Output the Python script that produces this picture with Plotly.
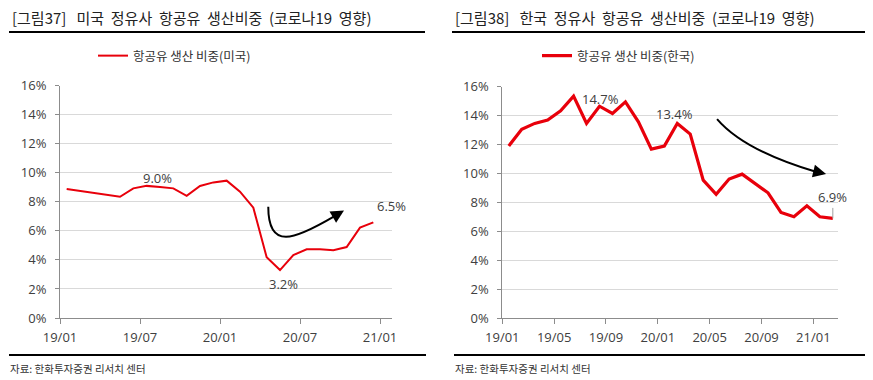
import plotly.graph_objects as go

# ---------------- data ----------------
us_months = ["19/01", "19/02", "19/03", "19/04", "19/05", "19/06", "19/07", "19/08", "19/09", "19/10",
             "19/11", "19/12", "20/01", "20/02", "20/03", "20/04", "20/05", "20/06", "20/07", "20/08",
             "20/09", "20/10", "20/11", "20/12"]
us_share = [8.88, None, None, None, 8.35, 8.93, 9.1, 9.02, 8.93, 8.42,
            9.09, 9.34, 9.46, 8.7, 7.6, 4.18, 3.3, 4.34, 4.73, 4.73,
            4.66, 4.89, 6.22, 6.59]

kr_months = ["19/01", "19/02", "19/03", "19/04", "19/05", "19/06", "19/07", "19/08", "19/09", "19/10",
             "19/11", "19/12", "20/01", "20/02", "20/03", "20/04", "20/05", "20/06", "20/07", "20/08",
             "20/09", "20/10", "20/11", "20/12", "21/01", "21/02"]
kr_share = [11.9, 13.05, 13.46, 13.69, 14.33, 15.35, 13.46, 14.65, 14.15, 14.95,
            13.57, 11.68, 11.89, 13.46, 12.72, 9.54, 8.55, 9.61, 9.95, 9.31,
            8.66, 7.3, 7.0, 7.76, 7.0, 6.89]

us_name = "항공유 생산 비중(미국)"
kr_name = "항공유 생산 비중(한국)"
title_us = "[그림37]\u00a0\u00a0 미국\u00a0 정유사\u00a0 항공유\u00a0 생산비중\u00a0 (코로나19\u00a0 영향)"
title_kr = "[그림38]\u00a0\u00a0 한국\u00a0 정유사\u00a0 항공유\u00a0 생산비중\u00a0 (코로나19\u00a0 영향)"
source = "자료: 한화투자증권 리서치 센터"

# ---------------- layout geometry (px) ----------------
W, H = 873, 380
OFF = 8  # page body margin in the browser
RED = "#e8000b"
KFONT = "Noto Sans CJK KR"
NFONT = "Open Sans"
TXT = "#404040"

def px_x(p):
    return (p - OFF) / W

def px_y(p):
    return 1 - (p - OFF) / H

us_x = [i + 0.5 for i in range(len(us_months))]
kr_x = [i + 0.5 for i in range(len(kr_months))]

fig = go.Figure()
fig.add_trace(go.Scatter(x=us_x, y=us_share, mode="lines", name=us_name,
                         line=dict(color=RED, width=2), connectgaps=True,
                         xaxis="x", yaxis="y", legend="legend"))
fig.add_trace(go.Scatter(x=kr_x, y=kr_share, mode="lines", name=kr_name,
                         line=dict(color=RED, width=3.2),
                         xaxis="x2", yaxis="y2", legend="legend2"))

# decorative rules (title underline, footer line) on a full-page overlay axis in page pixels
rules = [((9, 425), 32), ((452, 868), 32), ((9, 426), 355), ((454, 870), 355)]
for (x0, x1), y in rules:
    fig.add_trace(go.Scatter(x=[x0, x1], y=[y, y], mode="lines", showlegend=False,
                             hoverinfo="skip", line=dict(color="black", width=2),
                             xaxis="x3", yaxis="y3"))

us_ticks = [i for i in range(0, len(us_months) + 1, 6)]
us_ticktext = [us_months[i] if i < len(us_months) else "21/01" for i in us_ticks]
kr_ticks = [i for i in range(0, len(kr_months), 4)]
kr_ticktext = [kr_months[i] for i in kr_ticks]

xcommon = dict(showgrid=False, showline=True, linecolor="#8c8c8c", linewidth=1,
               ticks="outside", ticklen=5, tickcolor="#8c8c8c", zeroline=False,
               tickfont=dict(family=NFONT, size=13, color=TXT), ticklabelstandoff=2,
               automargin=False)
ycommon = dict(range=[0, 16], dtick=2, ticksuffix="%", showgrid=True, gridcolor="#d9d9d9",
               gridwidth=1, showline=True, linecolor="#8c8c8c", linewidth=1,
               ticks="outside", ticklen=4, tickcolor="#8c8c8c", zeroline=False,
               tickfont=dict(family=NFONT, size=13, color=TXT), ticklabelstandoff=6,
               automargin=False)

fig.update_layout(
    width=W, height=H, margin=dict(l=0, r=0, t=0, b=0, pad=0, autoexpand=False),
    autosize=False,
    paper_bgcolor="white", plot_bgcolor="rgba(0,0,0,0)",
    xaxis=dict(domain=[px_x(60), px_x(392)], range=[0, 24.9], tickvals=us_ticks,
               ticktext=us_ticktext, anchor="y", **xcommon),
    yaxis=dict(domain=[px_y(318), px_y(85.7)], anchor="x", **ycommon),
    xaxis2=dict(domain=[px_x(502.3), px_x(838)], range=[0, 25.9], tickvals=kr_ticks,
                ticktext=kr_ticktext, anchor="y2", **xcommon),
    yaxis2=dict(domain=[px_y(318), px_y(86.7)], anchor="x2", **ycommon),
    xaxis3=dict(domain=[0, 1], range=[OFF, W + OFF], visible=False, fixedrange=True,
                anchor="y3", automargin=False),
    yaxis3=dict(domain=[0, 1], range=[H + OFF, OFF], visible=False, fixedrange=True,
                anchor="x3", automargin=False),
    legend=dict(x=px_x(93), y=px_y(56), xanchor="left", yanchor="middle",
                bgcolor="rgba(0,0,0,0)", font=dict(family=KFONT, size=12.5, color="#333333")),
    legend2=dict(x=px_x(537), y=px_y(56), xanchor="left", yanchor="middle",
                 bgcolor="rgba(0,0,0,0)", font=dict(family=KFONT, size=12.5, color="#333333")),
    showlegend=True,
)

# titles and sources
for x, t in [(10, title_us), (453, title_kr)]:
    fig.add_annotation(xref="paper", yref="paper", x=px_x(x), y=px_y(17.5), text=t,
                       showarrow=False, xanchor="left", yanchor="middle",
                       font=dict(family=KFONT, size=15, color="#222222"))
for x in [8, 453]:
    fig.add_annotation(xref="paper", yref="paper", x=px_x(x), y=px_y(368), text=source,
                       showarrow=False, xanchor="left", yanchor="middle",
                       font=dict(family=KFONT, size=10.5, color="#333333"))

# data labels
lab_font = dict(family=NFONT, size=13, color=TXT)
def label(xref, yref, months, vals, m, txt, dx, dy):
    i = months.index(m)
    fig.add_annotation(xref=xref, yref=yref, x=i + 0.5, y=vals[i], text=txt,
                       showarrow=False, xanchor="center", yanchor="middle",
                       xshift=dx, yshift=dy, font=lab_font)

label("x", "y", us_months, us_share, "19/08", "9.0%", -3, 9)
label("x", "y", us_months, us_share, "20/05", "3.2%", 3, -14)
label("x", "y", us_months, us_share, "20/12", "6.5%", 18, 16)
label("x2", "y2", kr_months, kr_share, "19/08", "14.7%", 1, 7)
label("x2", "y2", kr_months, kr_share, "20/02", "13.4%", -3, 9)

i_last = len(kr_months) - 1
fig.add_annotation(xref="x2", yref="y2", x=i_last + 0.5, y=kr_share[i_last], text="6.9%",
                   showarrow=True, ax=0, ay=-21, arrowhead=0, arrowwidth=1,
                   arrowcolor="#a0a0a0", standoff=0, font=lab_font)

# curved trend arrows
fig.add_shape(type="path", xref="x", yref="y",
              path="M 15.62,7.67 C 15.62,4.68 17.53,5.36 20.53,6.98",
              line=dict(color="black", width=2))
fig.add_annotation(xref="x", yref="y", axref="x", ayref="y", x=21.3, y=7.40,
                   ax=20.45, ay=6.94, text="", showarrow=True, arrowhead=2,
                   arrowsize=1.3, arrowwidth=2, arrowcolor="black", standoff=0)

fig.add_shape(type="path", xref="x2", yref="y2",
              path="M 16.57,13.76 C 17.96,12.31 20.64,11.07 24.07,10.15",
              line=dict(color="black", width=2))
fig.add_annotation(xref="x2", yref="y2", axref="x2", ayref="y2", x=24.98, y=9.96,
                   ax=24.0, ay=10.17, text="", showarrow=True, arrowhead=2,
                   arrowsize=1.3, arrowwidth=2, arrowcolor="black", standoff=0)

fig.write_html("out.html", config={"displayModeBar": False})
